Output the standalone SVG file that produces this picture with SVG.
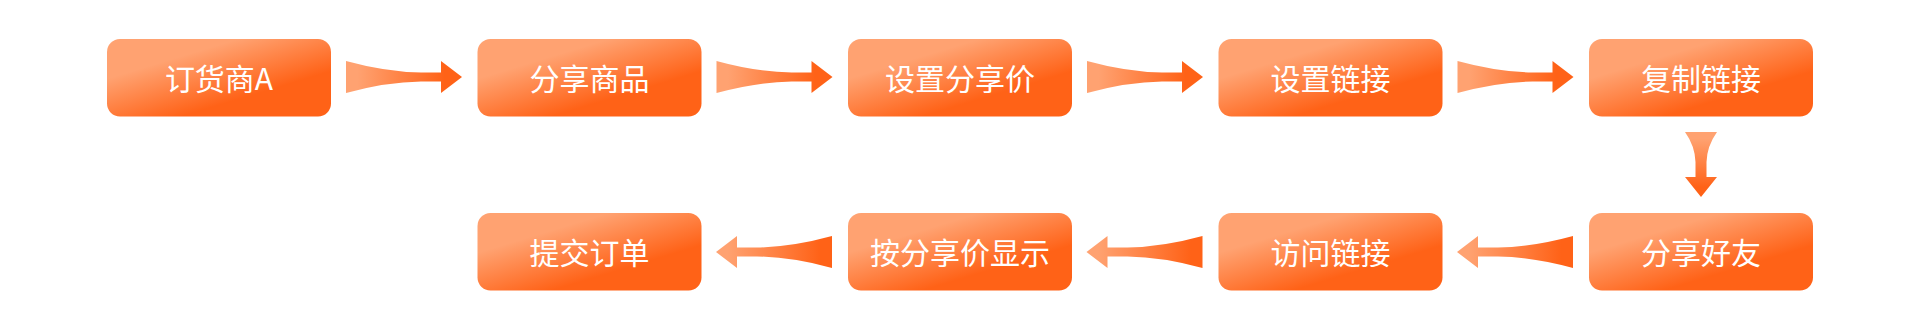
<svg xmlns="http://www.w3.org/2000/svg" width="1920" height="315" viewBox="0 0 1920 315">
<defs>
<linearGradient id="gBox" x1="0.15" y1="0.1" x2="0.85" y2="0.9">
<stop offset="0.2" stop-color="#FFA271"/>
<stop offset="0.75" stop-color="#FF6217"/>
</linearGradient>
<linearGradient id="gR" x1="0" y1="0" x2="1" y2="0">
<stop offset="0.1" stop-color="#FFA271"/>
<stop offset="0.85" stop-color="#FF6217"/>
</linearGradient>
<linearGradient id="gRev" x1="0" y1="0" x2="1" y2="0">
<stop offset="0.1" stop-color="#FF6217"/>
<stop offset="0.9" stop-color="#FFA271"/>
</linearGradient>
<linearGradient id="gD" x1="0" y1="0" x2="0" y2="1">
<stop offset="0.1" stop-color="#FFA271"/>
<stop offset="0.85" stop-color="#FF6217"/>
</linearGradient>
<path id="arrR" d="M0,-16 Q40,-5 75,-4.5 L95,-4.5 L95,-16 L116,0 L95,16 L95,4.5 L75,4.5 Q40,5 0,16 Z"/>
</defs>
<style>
.box{fill:url(#gBox)}
.lbl{fill:#fff;font-family:"Noto Sans CJK SC","Noto Sans",sans-serif;font-size:30px;text-anchor:middle}
</style>
<rect width="1920" height="315" fill="#fff"/>
<g id="connectors">
<use href="#arrR" transform="translate(346,77)" fill="url(#gR)"/>
<use href="#arrR" transform="translate(716.5,77)" fill="url(#gR)"/>
<use href="#arrR" transform="translate(1087,77)" fill="url(#gR)"/>
<use href="#arrR" transform="translate(1457.5,77)" fill="url(#gR)"/>
<path d="M1685,132 Q1695,146 1695.5,162 L1695.5,177 L1685,177 L1701,197 L1717,177 L1706.5,177 L1706.5,162 Q1707,146 1717,132 Z" fill="url(#gD)"/>
<use href="#arrR" transform="translate(1573,252) scale(-1,1)" fill="url(#gRev)"/>
<use href="#arrR" transform="translate(1202.5,252) scale(-1,1)" fill="url(#gRev)"/>
<use href="#arrR" transform="translate(832,252) scale(-1,1)" fill="url(#gRev)"/>
</g>
<g id="n1"><rect class="box" x="107" y="39" width="224" height="77.5" rx="13"/><text class="lbl" x="219" y="90">订货商A</text></g>
<g id="n2"><rect class="box" x="477.5" y="39" width="224" height="77.5" rx="13"/><text class="lbl" x="589.5" y="90">分享商品</text></g>
<g id="n3"><rect class="box" x="848" y="39" width="224" height="77.5" rx="13"/><text class="lbl" x="960" y="90">设置分享价</text></g>
<g id="n4"><rect class="box" x="1218.5" y="39" width="224" height="77.5" rx="13"/><text class="lbl" x="1330.5" y="90">设置链接</text></g>
<g id="n5"><rect class="box" x="1589" y="39" width="224" height="77.5" rx="13"/><text class="lbl" x="1701" y="90">复制链接</text></g>
<g id="n6"><rect class="box" x="1589" y="213" width="224" height="77.5" rx="13"/><text class="lbl" x="1701" y="264">分享好友</text></g>
<g id="n7"><rect class="box" x="1218.5" y="213" width="224" height="77.5" rx="13"/><text class="lbl" x="1330.5" y="264">访问链接</text></g>
<g id="n8"><rect class="box" x="848" y="213" width="224" height="77.5" rx="13"/><text class="lbl" x="960" y="264">按分享价显示</text></g>
<g id="n9"><rect class="box" x="477.5" y="213" width="224" height="77.5" rx="13"/><text class="lbl" x="589.5" y="264">提交订单</text></g>
</svg>
